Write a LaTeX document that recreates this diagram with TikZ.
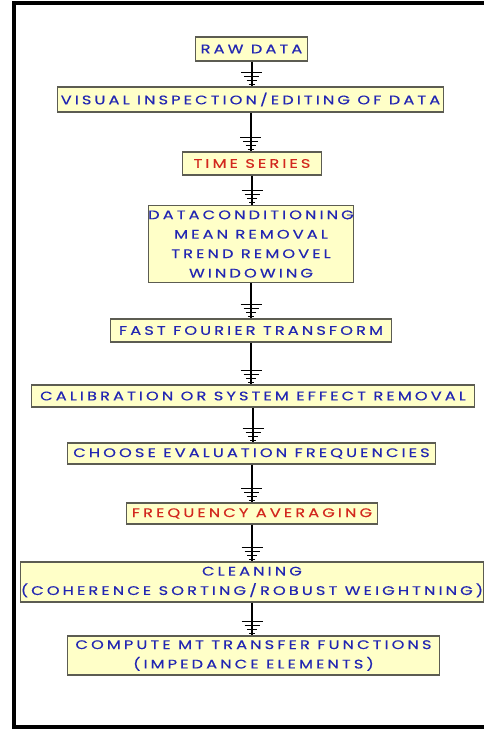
\documentclass[tikz,border=0pt]{standalone}
\usepackage{fontspec}
\setmainfont{Poppins}[LetterSpace=25,FakeStretch=1.3,FakeBold=0.4]
\usepackage{xcolor}
\definecolor{ink}{HTML}{2226B2}
\definecolor{hot}{HTML}{D2281E}
\definecolor{paper}{HTML}{FFFFC8}
\definecolor{edge}{HTML}{5C5C52}
\usetikzlibrary{positioning}
\tikzset{
  box/.style={draw=edge,fill=paper,line width=1.2bp,inner sep=0pt,align=center,text=ink,font=\fontsize{12.5}{19.5}\selectfont},
  rbox/.style={box,text=hot},
  wire/.style={draw=black,line width=2bp},
  bar/.style={draw=black,line width=1.7bp},
}
% stem from one box to the next, ground bars on top of the lower box
\newcommand{\gnd}[2]{%
  \draw[wire] (#1.south) -- (#1.south |- #2.north);
  \foreach \d/\w in {14/10.5,10/7.5,6/5,2/3}
    \draw[bar] ([shift={(-\w,-\d)}]#1.south |- #2.north) -- ++(2*\w,0);
}

\begin{document}
\begin{tikzpicture}[x=1bp,y=-1bp]
\useasboundingbox (0,0) rectangle (484,730);
\draw[line width=4bp] (484,3) -- (14,3) -- (14,727) -- (484,727);
\node[box,minimum width=113,minimum height=24] (raw) at (251.5,49) {RAW DATA};
\node[box,minimum width=387,minimum height=25] (vis) at (250.5,99.5) {VISUAL INSPECTION/EDITING OF DATA};
\node[rbox,minimum width=140,minimum height=23] (ts) at (252,163.5) {TIME SERIES};
\node[box,minimum width=206,minimum height=78] (cond) at (251,244) {DATACONDITIONING\\MEAN REMOVAL\\TREND REMOVEL\\WINDOWING};
\node[box,minimum width=282,minimum height=23] (fft) at (251,330.5) {FAST FOURIER TRANSFORM};
\node[box,minimum width=444,minimum height=22] (cal) at (253,396) {CALIBRATION OR SYSTEM EFFECT REMOVAL};
\node[box,minimum width=369,minimum height=21] (freq) at (251.5,453.5) {CHOOSE EVALUATION FREQUENCIES};
\node[rbox,minimum width=252,minimum height=21] (avg) at (252,513.5) {FREQUENCY AVERAGING};
\node[box,minimum width=460,minimum height=40] (clean) at (252,582) {CLEANING\\(COHERENCE SORTING/ROBUST WEIGHTNING)};
\node[box,minimum width=373,minimum height=39] (mt) at (253.5,655.5) {COMPUTE MT TRANSFER FUNCTIONS\\(IMPEDANCE ELEMENTS)};
\gnd{raw}{vis} \gnd{vis}{ts} \gnd{ts}{cond} \gnd{cond}{fft} \gnd{fft}{cal}
\gnd{cal}{freq} \gnd{freq}{avg} \gnd{avg}{clean} \gnd{clean}{mt}
\end{tikzpicture}
\end{document}
